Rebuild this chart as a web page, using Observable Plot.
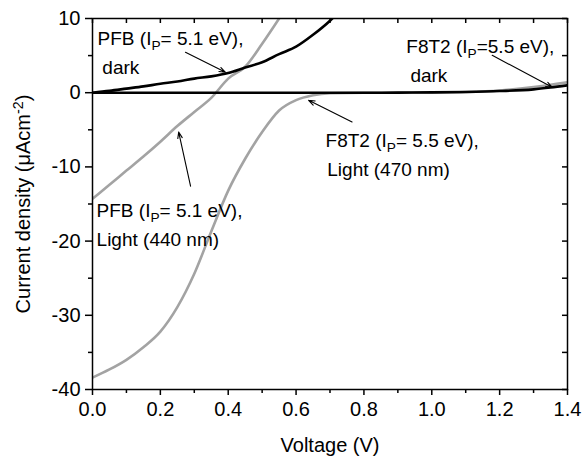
<!DOCTYPE html>
<html>
<head>
<meta charset="utf-8">
<script src="https://cdn.jsdelivr.net/npm/d3@7"></script>
<script src="https://cdn.jsdelivr.net/npm/@observablehq/plot@0.6"></script>
<style>
  html, body { margin: 0; padding: 0; background: #fff; }
  #chart { width: 582px; height: 456px; }
</style>
</head>
<body>
<div id="chart"></div>
<script>
// ---- Data ----
const pfbDarkV  = [0, 0.05, 0.1, 0.15, 0.2, 0.25, 0.3, 0.35, 0.4, 0.45, 0.5, 0.55, 0.6, 0.65, 0.7, 0.72];
const pfbDarkJ  = [0, 0.25, 0.55, 0.85, 1.2, 1.5, 1.9, 2.2, 2.65, 3.4, 4.1, 5.2, 6.2, 7.8, 9.7, 10.6];

const pfbLightV = [0, 0.05, 0.1, 0.15, 0.2, 0.25, 0.3, 0.35, 0.4, 0.45, 0.5, 0.55, 0.56];
const pfbLightJ = [-14.3, -12.4, -10.5, -8.6, -6.6, -4.5, -2.6, -0.7, 1.9, 3.5, 6.6, 10.0, 10.7];

const f8t2LightV = [0, 0.05, 0.1, 0.15, 0.2, 0.25, 0.3, 0.35, 0.4, 0.45, 0.5, 0.55, 0.6, 0.65, 0.7, 0.8, 0.9, 1.0, 1.1, 1.2, 1.3, 1.4];
const f8t2LightJ = [-38.4, -37.3, -36.0, -34.3, -32.2, -28.9, -24.4, -18.7, -13.2, -8.9, -5.3, -2.4, -1.0, -0.35, -0.08, 0, 0, 0.03, 0.1, 0.3, 0.75, 1.4];

const f8t2DarkV = [0, 0.2, 0.4, 0.6, 0.8, 0.9, 1.0, 1.1, 1.2, 1.3, 1.35, 1.4];
const f8t2DarkJ = [0, 0, 0, 0, 0, 0.01, 0.04, 0.1, 0.22, 0.45, 0.7, 1.0];

const xMajorTicks = [0, 0.2, 0.4, 0.6, 0.8, 1.0, 1.2, 1.4];
const xMinorTicks = [0.1, 0.3, 0.5, 0.7, 0.9, 1.1, 1.3];
const yMajorTicks = [-40, -30, -20, -10, 0, 10];
const yMinorTicks = [-35, -25, -15, -5, 5];

// annotation labels (I_P marks the subscripted P)
const labelText = [
  "PFB (I_P= 5.1 eV),", "dark",
  "F8T2 (I_P=5.5 eV),", "dark",
  "F8T2 (I_P= 5.5 eV),", "Light (470 nm)",
  "PFB (I_P= 5.1 eV),", "Light (440 nm)"
];
const labelV = [0.015, 0.029, 0.925, 0.937, 0.687, 0.692, 0.012, 0.012];
const labelJ = [6.39, 2.48, 5.31, 1.40, -7.36, -11.2, -16.8, -20.6];

// arrows: start (V1,J1) -> tip (V2,J2)
const arrowV1 = [0.274, 1.178, 0.765, 0.289];
const arrowJ1 = [5.44, 5.04, -3.95, -12.6];
const arrowV2 = [0.392, 1.355, 0.637, 0.254];
const arrowJ2 = [2.75, 0.72, -1.02, -5.3];

const xLabel = "Voltage (V)";
const yLabel = "Current density (\u03BCAcm^-2)";

const xDomain = [0, 1.4];
const yDomain = [-40, 10];

// ---- build tables ----
const toPts = (V, J) => V.map((v, i) => ({V: v, J: J[i]}));
const pfbDark = toPts(pfbDarkV, pfbDarkJ);
const pfbLight = toPts(pfbLightV, pfbLightJ);
const f8t2Light = toPts(f8t2LightV, f8t2LightJ);
const f8t2Dark = toPts(f8t2DarkV, f8t2DarkJ);
const labels = labelText.map((t, i) => ({t, V: labelV[i], J: labelJ[i]}));
const arrows = arrowV1.map((v, i) => ({x1: v, y1: arrowJ1[i], x2: arrowV2[i], y2: arrowJ2[i]}));

const W = 582, H = 456, mL = 92, mR = 15, mT = 18, mB = 67;
const frameW = W - mL - mR, frameH = H - mT - mB;
// inward mirror-tick length (px) expressed in data units
const tickPx = 5;
const tickLenY = tickPx * (yDomain[1] - yDomain[0]) / frameH;
const tickLenX = tickPx * (xDomain[1] - xDomain[0]) / frameW;
const gray = "#a3a3a3";
const lw = 2.6;
const noText = () => "";

const chart = Plot.plot({
  width: W,
  height: H,
  marginLeft: mL,
  marginRight: mR,
  marginTop: mT,
  marginBottom: mB,
  style: {fontFamily: "'Liberation Sans', Arial, Helvetica, sans-serif", fontSize: "20px", color: "#000", background: "#fff", overflow: "visible"},
  x: {domain: xDomain},
  y: {domain: yDomain},
  marks: [
    // data lines
    Plot.line(f8t2Light, {x: "V", y: "J", stroke: gray, strokeWidth: lw, clip: true, curve: "monotone-x"}),
    Plot.line(pfbLight, {x: "V", y: "J", stroke: gray, strokeWidth: lw, clip: true, curve: "monotone-x"}),
    Plot.line(f8t2Dark, {x: "V", y: "J", stroke: "#000", strokeWidth: lw, clip: true, curve: "monotone-x"}),
    Plot.line(pfbDark, {x: "V", y: "J", stroke: "#000", strokeWidth: lw, clip: true, curve: "monotone-x"}),
    // arrows
    Plot.arrow(arrows, {x1: "x1", y1: "y1", x2: "x2", y2: "y2", stroke: "#000", strokeWidth: 1.1, headLength: 9, headAngle: 40}),
    // annotation labels
    Plot.text(labels, {x: "V", y: "J", text: "t", textAnchor: "start", lineAnchor: "bottom", fontSize: 19, fill: "#000"}),
    // mirror ticks pointing inward on top and right
    Plot.ruleX(xMajorTicks.concat(xMinorTicks), {x: d => d, y1: yDomain[1], y2: yDomain[1] - tickLenY, stroke: "#000", strokeWidth: 1.5}),
    Plot.ruleY(yMajorTicks.concat(yMinorTicks), {y: d => d, x1: xDomain[1] - tickLenX, x2: xDomain[1], stroke: "#000", strokeWidth: 1.5}),
    // frame
    Plot.frame({stroke: "#000", strokeWidth: 1.5}),
    // bottom axis
    Plot.axisX({ticks: xMajorTicks, tickSize: 6, tickPadding: 6, tickFormat: d => d.toFixed(1), label: xLabel, labelAnchor: "center", labelArrow: "none", labelOffset: 62, fontSize: 20, strokeWidth: 1.5}),
    Plot.axisX({ticks: xMinorTicks, tickSize: 4, tickFormat: noText, label: null, strokeWidth: 1.5}),
    // left axis
    Plot.axisY({ticks: yMajorTicks, tickSize: 7, tickPadding: 5, tickFormat: d => String(d), label: yLabel, labelAnchor: "center", labelArrow: "none", labelOffset: 77, fontSize: 20, strokeWidth: 1.5}),
    Plot.axisY({ticks: yMinorTicks, tickSize: 4, tickFormat: noText, label: null, strokeWidth: 1.5})
  ]
});

// sub/superscripts
d3.select(chart).selectAll("text").each(function () {
  const t = this.textContent;
  const sel = d3.select(this);
  if (t.includes("I_P")) {
    const [a, b] = t.split("I_P");
    sel.text(null);
    sel.append("tspan").text(a + "I");
    sel.append("tspan").attr("font-size", "0.72em").attr("dy", "0.32em").text("P");
    sel.append("tspan").attr("dy", "-0.23em").text(b);
  } else if (t.includes("^-2")) {
    const [a, b] = t.split("^-2");
    sel.text(null);
    sel.append("tspan").text(a);
    sel.append("tspan").attr("font-size", "0.72em").attr("dy", "-0.5em").text("-2");
    sel.append("tspan").attr("dy", "0.36em").text(b);
  }
});

document.getElementById("chart").appendChild(chart);
</script>
</body>
</html>
